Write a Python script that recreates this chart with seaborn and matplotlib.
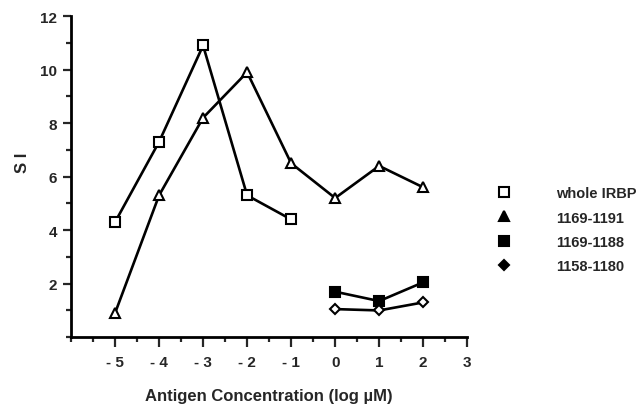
import pandas as pd
import numpy as np
import seaborn as sns
import matplotlib.pyplot as plt
from matplotlib.lines import Line2D
from matplotlib.ticker import MultipleLocator

# data
x_irbp = [-5, -4, -3, -2, -1]
si_irbp = [4.3, 7.3, 10.9, 5.3, 4.4]

x_1191 = [-5, -4, -3, -2, -1, 0, 1, 2]
si_1191 = [0.9, 5.3, 8.2, 9.9, 6.5, 5.2, 6.4, 5.6]

x_1188 = [0, 1, 2]
si_1188 = [1.7, 1.35, 2.05]

x_1180 = [0, 1, 2]
si_1180 = [1.05, 1.0, 1.3]

labels = ["whole IRBP", "1169-1191", "1169-1188", "1158-1180"]
xticks = [-5, -4, -3, -2, -1, 0, 1, 2, 3]
xticklabels = ["- 5", "- 4", "- 3", "- 2", "- 1", "0", "1", "2", "3"]

sns.set_style("ticks")
plt.rcParams['font.family'] = ['Liberation Sans', 'DejaVu Sans']

fig = plt.figure(figsize=(6.4, 4.06), dpi=100)
ax = fig.add_axes([0.111, 0.167, 0.619, 0.791])

series = [
    (x_irbp, si_irbp, dict(marker="s", markerfacecolor="white"), "white"),
    (x_1191, si_1191, dict(marker="^", markerfacecolor="white"), "black"),
    (x_1188, si_1188, dict(marker="s", markerfacecolor="black"), "black"),
    (x_1180, si_1180, dict(marker="D", markerfacecolor="white"), "black"),
]
handles = []
for (xs, ys, st, legface), lab in zip(series, labels):
    df = pd.DataFrame({"x": xs, "y": ys})
    ms = 5 if st["marker"] == "D" else 6.5
    sns.lineplot(data=df, x="x", y="y", ax=ax, color="black", linewidth=1.9,
                 markersize=ms, markeredgecolor="black", markeredgewidth=1.5,
                 legend=False, **st)
    handles.append(Line2D([], [], linestyle="none", color="black",
                          marker=st["marker"], markerfacecolor=legface,
                          markeredgecolor="black", markeredgewidth=1.5,
                          markersize=ms))

ax.set_xlim(-6, 3)
ax.set_ylim(0, 12)
ax.set_xticks(xticks)
ax.set_xticklabels(xticklabels)
ax.xaxis.set_minor_locator(MultipleLocator(0.5))
ax.set_yticks([2, 4, 6, 8, 10, 12])
ax.yaxis.set_minor_locator(MultipleLocator(1))
ax.tick_params(axis="x", which="major", length=7.5, width=1.6, labelsize=11, pad=5)
ax.tick_params(axis="y", which="major", length=6, width=1.6, labelsize=11, pad=4)
ax.tick_params(axis="both", which="minor", length=3.5, width=1.6)
for lbl in ax.get_xticklabels() + ax.get_yticklabels():
    lbl.set_fontweight("bold")
for s in ["left", "bottom"]:
    ax.spines[s].set_linewidth(2.0)
    ax.spines[s].set_color("black")
sns.despine(ax=ax)

ax.set_xlabel("Antigen Concentration (log \u00b5M)", fontweight="bold", fontsize=12, labelpad=14)
ax.set_ylabel("S I", fontweight="bold", fontsize=12)
ax.yaxis.set_label_coords(-0.104, 0.545)

leg = fig.legend(handles, labels, loc="upper left", bbox_to_anchor=(0.755, 0.571),
                 frameon=False, fontsize=10.5, handletextpad=3.1, labelspacing=0.7,
                 handlelength=1.0)
for t in leg.get_texts():
    t.set_fontweight("bold")

fig.savefig("out.png", dpi=100)
